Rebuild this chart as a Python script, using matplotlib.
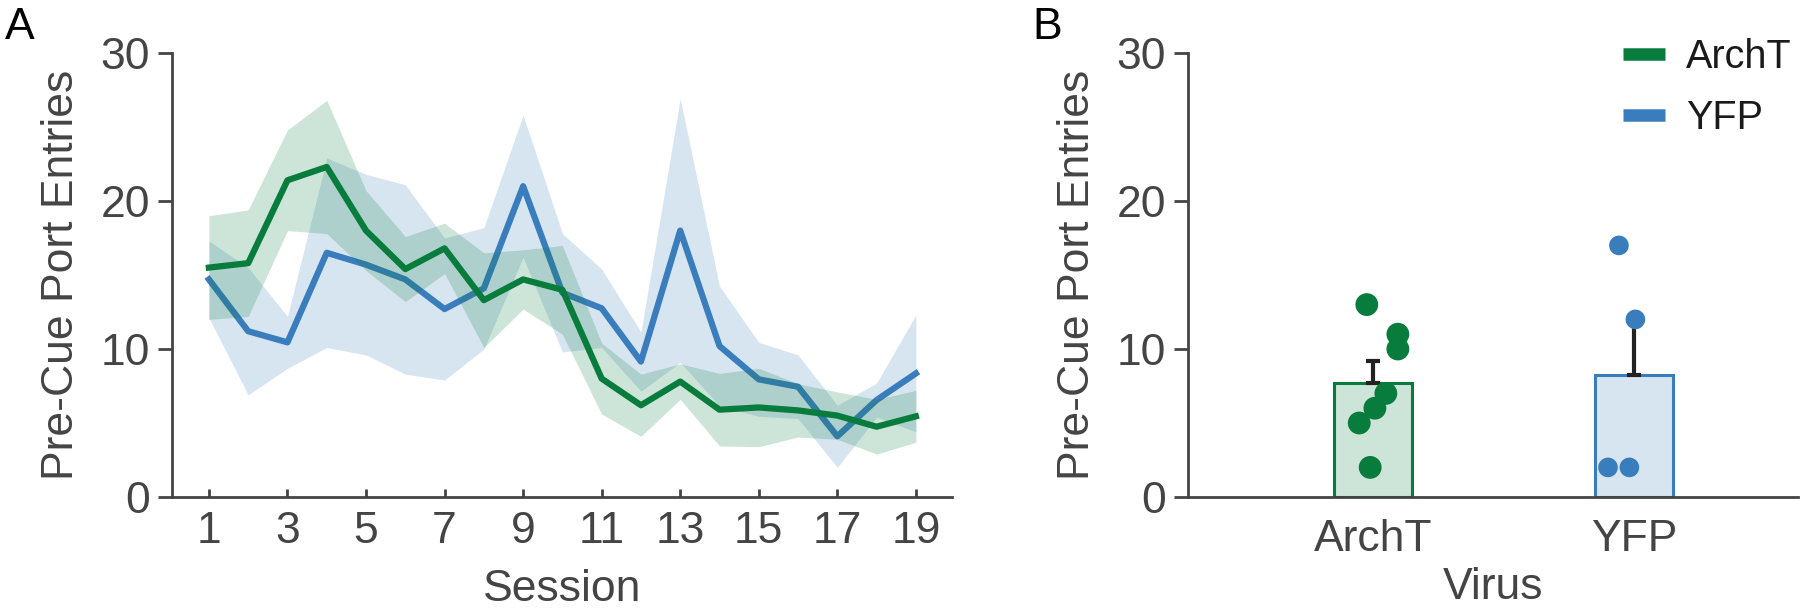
"""
Pre-cue port entries: session time course (A) and group means with individual animals (B).
"""

import matplotlib
matplotlib.use("Agg")
import matplotlib.pyplot as plt
import matplotlib.colors as mcolors
import numpy as np
from matplotlib.lines import Line2D

plt.rcParams['font.family'] = ['Liberation Sans', 'DejaVu Sans']

# ---- data -------------------------------------------------------------
sessions = np.arange(1, 20)
archt_mean = [15.5, 15.8, 21.4, 22.3, 18.0, 15.4, 16.8, 13.3, 14.7, 14.0,
              8.0, 6.2, 7.8, 5.9, 6.05, 5.85, 5.5, 4.75, 5.45]
archt_sem = [3.5, 3.6, 3.4, 4.5, 2.7, 2.2, 1.7, 3.2, 2.0, 3.0,
             2.4, 2.1, 1.2, 2.45, 2.65, 1.8, 1.6, 1.85, 1.75]
yfp_mean = [14.7, 11.2, 10.45, 16.5, 15.7, 14.7, 12.7, 14.1, 21.0, 13.8,
            12.75, 9.15, 18.0, 10.2, 7.95, 7.45, 4.1, 6.55, 8.35]
yfp_sem = [2.6, 4.3, 1.75, 6.4, 6.1, 6.4, 4.8, 4.1, 4.8, 4.0,
           2.65, 2.0, 8.9, 4.05, 2.5, 2.15, 2.1, 1.15, 3.95]

groups = ['ArchT', 'YFP']
archt_animals = [13, 11, 10, 7, 6, 5, 2]
yfp_animals = [17, 12, 2, 2]

# horizontal jitter of the animal dots (fraction of category spacing)
archt_jitter = [-0.024, 0.095, 0.095, 0.049, 0.007, -0.053, -0.011]
yfp_jitter = [-0.058, 0.005, -0.10, -0.018]

GREEN = '#087c3c'
BLUE = '#3a7dbd'
AXC = '#444444'
FS = 32

fig = plt.figure(figsize=(18, 6.08), dpi=100)

# ---- panel A ----------------------------------------------------------
axA = fig.add_axes([172 / 1800, 1 - 497 / 608, 780 / 1800, 444 / 608])

ym = np.array(yfp_mean)
ys = np.array(yfp_sem)
am = np.array(archt_mean)
ase = np.array(archt_sem)

# drawing order: blue band, blue line, green band, green line
axA.fill_between(sessions, ym - ys, ym + ys, color=BLUE, alpha=0.2, lw=0, zorder=1)
axA.plot(sessions, ym, color=BLUE, lw=4.5, zorder=2)
axA.fill_between(sessions, am - ase, am + ase, color=GREEN, alpha=0.2, lw=0, zorder=3)
axA.plot(sessions, am, color=GREEN, lw=4.5, zorder=4)

axA.set_xlim(0.06, 19.92)
axA.set_ylim(0, 30)
axA.set_xticks(np.arange(1, 20, 2))
axA.set_yticks([0, 10, 20, 30])
axA.set_xlabel('Session', fontsize=FS, color=AXC, labelpad=12)
axA.set_ylabel('Pre-Cue Port Entries', fontsize=FS, color=AXC, labelpad=13)
axA.tick_params(axis='x', direction='in', length=6, width=2, color=AXC,
                labelsize=FS, labelcolor=AXC, pad=10)
axA.tick_params(axis='y', direction='out', length=10, width=2, color=AXC,
                labelsize=FS, labelcolor=AXC, pad=6)

# ---- panel B ----------------------------------------------------------
axB = fig.add_axes([1188 / 1800, 1 - 497 / 608, 610 / 1800, 444 / 608])

xpos = np.arange(len(groups))
colors = [GREEN, BLUE]
animals = [archt_animals, yfp_animals]
jitters = [archt_jitter, yfp_jitter]
dot_sizes = [270, 200]

for i, (vals, jit, c) in enumerate(zip(animals, jitters, colors)):
    vals = np.array(vals, dtype=float)
    mean = vals.mean()
    sem = vals.std(ddof=1) / np.sqrt(len(vals))
    axB.bar(xpos[i], mean, width=0.3, facecolor=mcolors.to_rgba(c, 0.2),
            edgecolor=c, linewidth=2.2, zorder=2)
    axB.errorbar(xpos[i], mean, yerr=[[0], [sem]], fmt='none', ecolor='#222222',
                 elinewidth=3, capsize=5, capthick=3, zorder=3)
    axB.scatter(xpos[i] + np.array(jit), vals, s=dot_sizes[i], color=c,
                edgecolors='none', zorder=4)

axB.set_xlim(-0.709, 1.628)
axB.set_ylim(0, 30)
axB.set_xticks(xpos)
axB.set_xticklabels(groups)
axB.set_yticks([0, 10, 20, 30])
axB.set_xlabel('Virus', fontsize=FS, color=AXC, labelpad=5)
axB.set_ylabel('Pre-Cue Port Entries', fontsize=FS, color=AXC, labelpad=13)
axB.tick_params(axis='x', length=0, labelsize=FS, labelcolor=AXC, pad=16)
axB.tick_params(axis='y', direction='out', length=10, width=2, color=AXC,
                labelsize=FS, labelcolor=AXC, pad=6)

handles = [Line2D([0], [0], color=GREEN, lw=9, solid_capstyle='butt'),
           Line2D([0], [0], color=BLUE, lw=9, solid_capstyle='butt')]
axB.legend(handles, groups, loc='upper right', bbox_to_anchor=(1792 / 1800, 1 - 38 / 608),
           bbox_transform=fig.transFigure, frameon=False, fontsize=28.5,
           handlelength=1.06, handletextpad=0.53, labelspacing=0.58,
           borderpad=0, borderaxespad=0, labelcolor='#1a1a1a')

for ax in (axA, axB):
    for side in ('top', 'right'):
        ax.spines[side].set_visible(False)
    for side in ('left', 'bottom'):
        ax.spines[side].set_color(AXC)
        ax.spines[side].set_linewidth(2)

fig.text(5 / 1800, 1 - 39 / 608, 'A', fontsize=32, color='black', va='baseline', ha='left')
fig.text(1032 / 1800, 1 - 39 / 608, 'B', fontsize=32, color='black', va='baseline', ha='left')

fig.savefig('out.png', dpi=100)
